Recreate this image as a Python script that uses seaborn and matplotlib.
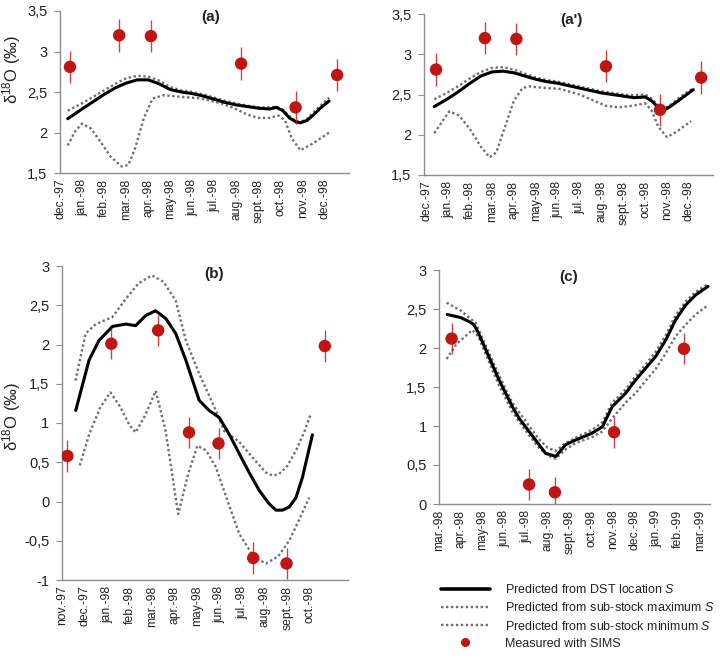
import numpy as np
import pandas as pd
import matplotlib
matplotlib.use("Agg")
import matplotlib.pyplot as plt
from matplotlib.lines import Line2D
from matplotlib.ticker import FuncFormatter, FixedLocator
import seaborn as sns

sns.set_theme(style="white")
plt.rcParams['font.family'] = ['Liberation Sans', 'DejaVu Sans']
plt.rcParams['mathtext.fontset'] = 'custom'
plt.rcParams['mathtext.rm'] = 'Liberation Sans'
plt.rcParams['mathtext.it'] = 'Liberation Sans:italic'

# ---------------- data ----------------
labels_a = ["dec.-97", "jan.-98", "feb.-98", "mar.-98", "apr.-98", "may-98", "jun.-98",
            "jul.-98", "aug.-98", "sept.-98", "oct.-98", "nov.-98", "dec.-98"]
labels_b = ["nov.-97", "dec.-97", "jan.-98", "feb.-98", "mar.-98", "apr.-98", "may-98",
            "jun.-98", "jul.-98", "aug.-98", "sept.-98", "oct.-98"]
labels_c = ["mar.-98", "apr.-98", "may-98", "jun.-98", "jul.-98", "aug.-98", "sept.-98",
            "oct.-98", "nov.-98", "dec.-98", "jan.-99", "feb.-99", "mar.-99"]

# Panel (a)
a_dst_x = [0.35, 1.0, 1.5, 2.0, 2.5, 3.0, 3.5, 4.0, 4.5, 5.0, 5.5, 6.0, 6.5, 7.0, 7.5, 8.0,
           8.5, 9.0, 9.5, 9.8, 10.1, 10.4, 10.7, 10.9, 11.2, 11.5, 11.8, 12.2]
a_dst_y = [2.17, 2.29, 2.38, 2.47, 2.55, 2.61, 2.65, 2.65, 2.60, 2.53, 2.50, 2.48, 2.45, 2.41,
           2.37, 2.34, 2.32, 2.30, 2.29, 2.31, 2.27, 2.18, 2.13, 2.12, 2.15, 2.22, 2.30, 2.39]
a_max_y = [2.27, 2.36, 2.44, 2.52, 2.60, 2.67, 2.70, 2.69, 2.64, 2.56, 2.52, 2.50, 2.47, 2.43,
           2.39, 2.36, 2.33, 2.31, 2.31, 2.32, 2.28, 2.20, 2.14, 2.13, 2.17, 2.25, 2.33, 2.43]
a_min_x = [0.35, 0.7, 1.0, 1.4, 1.8, 2.3, 2.8, 3.1, 3.4, 3.8, 4.2, 4.7, 5.5, 6.4, 7.3, 7.9,
           8.5, 9.0, 9.5, 9.9, 10.2, 10.5, 10.9, 11.5, 12.2]
a_min_y = [1.84, 2.02, 2.11, 2.05, 1.90, 1.70, 1.58, 1.60, 1.80, 2.18, 2.42, 2.46, 2.44, 2.42,
           2.36, 2.30, 2.22, 2.18, 2.18, 2.21, 2.15, 1.93, 1.78, 1.87, 2.00]

# Panel (a')
ap_dst_x = [0.37, 1.0, 1.5, 2.0, 2.5, 3.0, 3.5, 4.0, 4.5, 5.0, 5.5, 6.0, 6.5, 7.0, 7.5, 8.0,
            8.5, 9.0, 9.5, 10.0, 10.3, 10.6, 10.9, 11.2, 11.6, 12.2]
ap_dst_y = [2.35, 2.45, 2.54, 2.64, 2.73, 2.78, 2.79, 2.77, 2.73, 2.69, 2.66, 2.64, 2.61, 2.58,
            2.55, 2.52, 2.50, 2.48, 2.46, 2.47, 2.42, 2.34, 2.31, 2.36, 2.44, 2.56]
ap_max_y = [2.44, 2.53, 2.61, 2.70, 2.78, 2.83, 2.84, 2.81, 2.76, 2.71, 2.68, 2.66, 2.63, 2.60,
            2.57, 2.54, 2.52, 2.50, 2.49, 2.50, 2.45, 2.36, 2.33, 2.38, 2.47, 2.58]
ap_min_x = [0.37, 1.05, 1.5, 2.0, 2.5, 2.9, 3.2, 3.6, 4.0, 4.4, 4.7, 5.5, 6.1, 7.0, 7.6, 8.2,
            8.8, 9.4, 10.0, 10.3, 10.6, 11.0, 11.5, 12.1]
ap_min_y = [2.02, 2.29, 2.24, 2.07, 1.85, 1.72, 1.78, 2.10, 2.42, 2.58, 2.60, 2.58, 2.57, 2.50,
            2.43, 2.36, 2.34, 2.36, 2.39, 2.30, 2.10, 1.97, 2.05, 2.17]

# Measured SIMS (a) and (a')
a_sims_x = [0.45, 2.68, 4.12, 8.21, 10.68, 12.56]
a_sims_y = [2.81, 3.20, 3.19, 2.85, 2.31, 2.71]
a_sims_err = [0.2, 0.2, 0.2, 0.2, 0.2, 0.2]

# Panel (b)
b_dst_x = [0.61, 1.2, 1.64, 2.24, 2.83, 3.27, 3.72, 4.16, 4.61, 5.05, 5.5, 6.09, 6.53, 6.98,
           7.42, 7.87, 8.31, 8.76, 9.2, 9.5, 9.79, 10.09, 10.39, 10.68, 11.12]
b_dst_y = [1.16, 1.80, 2.05, 2.23, 2.26, 2.24, 2.37, 2.43, 2.33, 2.14, 1.80, 1.29, 1.16, 1.07,
           0.86, 0.61, 0.37, 0.14, -0.03, -0.11, -0.11, -0.07, 0.05, 0.31, 0.85]
b_max_x = [0.6, 1.05, 1.5, 2.24, 2.83, 3.4, 4.0, 4.5, 5.05, 5.5, 6.09, 6.83, 7.2, 7.87, 8.46,
           9.05, 9.35, 9.64, 10.0, 10.39, 10.75, 11.05]
b_max_y = [1.54, 2.14, 2.26, 2.35, 2.58, 2.78, 2.88, 2.80, 2.56, 2.05, 1.63, 1.16, 0.90, 0.76,
           0.56, 0.37, 0.33, 0.35, 0.45, 0.65, 0.88, 1.12]
b_min_x = [0.79, 1.2, 1.7, 2.15, 2.6, 3.0, 3.27, 3.7, 4.16, 4.6, 5.16, 5.6, 6.01, 6.4, 6.83,
           7.3, 7.87, 8.5, 9.05, 9.6, 10.09, 10.5, 10.98]
b_min_y = [0.46, 0.85, 1.20, 1.39, 1.20, 0.97, 0.88, 1.10, 1.41, 0.90, -0.16, 0.35, 0.71, 0.65,
           0.44, 0.05, -0.41, -0.70, -0.79, -0.70, -0.50, -0.25, 0.05]
b_sims_x = [0.24, 2.19, 4.27, 5.64, 6.95, 8.49, 9.97, 11.67]
b_sims_y = [0.58, 2.01, 2.18, 0.88, 0.74, -0.72, -0.79, 1.98]
b_sims_err = [0.2, 0.2, 0.2, 0.2, 0.2, 0.2, 0.2, 0.2]

# Panel (c)
c_dst_x = [0.38, 1.0, 1.38, 1.6, 1.8, 2.15, 2.76, 3.37, 3.68, 4.14, 4.6, 4.9, 5.37, 5.82, 6.28,
           7.05, 7.51, 7.97, 8.58, 9.04, 9.5, 9.96, 10.42, 10.88, 11.34, 11.8, 12.37]
c_dst_y = [2.43, 2.39, 2.34, 2.30, 2.20, 1.98, 1.59, 1.25, 1.10, 0.93, 0.76, 0.65, 0.61, 0.76,
           0.82, 0.91, 0.99, 1.25, 1.42, 1.59, 1.74, 1.89, 2.10, 2.36, 2.55, 2.68, 2.79]
c_max_x = [0.35, 1.0, 1.69, 2.15, 2.76, 3.37, 4.14, 4.6, 5.0, 5.37, 5.82, 6.28, 7.05, 7.51,
           7.97, 8.58, 9.04, 9.5, 9.96, 10.42, 10.88, 11.34, 11.8, 12.37]
c_max_y = [2.58, 2.48, 2.32, 2.03, 1.65, 1.30, 1.00, 0.83, 0.72, 0.68, 0.78, 0.85, 0.95, 1.05,
           1.30, 1.47, 1.64, 1.79, 1.95, 2.16, 2.42, 2.60, 2.72, 2.82]
c_min_x = [0.35, 0.8, 1.53, 1.8, 2.15, 2.76, 3.37, 4.14, 4.6, 5.0, 5.37, 5.82, 6.28, 7.05, 7.51,
           7.97, 8.58, 9.04, 9.5, 9.96, 10.42, 10.88, 11.34, 11.8, 12.37]
c_min_y = [1.86, 2.05, 2.23, 2.15, 1.92, 1.52, 1.18, 0.88, 0.72, 0.62, 0.58, 0.70, 0.78, 0.86,
           0.93, 1.10, 1.30, 1.42, 1.58, 1.73, 1.93, 2.15, 2.30, 2.43, 2.55]
c_sims_x = [0.58, 4.14, 5.33, 8.05, 11.26]
c_sims_y = [2.12, 0.25, 0.15, 0.92, 1.99]
c_sims_err = [0.2, 0.2, 0.2, 0.2, 0.2]

legend_labels = ["Predicted from DST location $\\mathit{S}$",
                 "Predicted from sub-stock maximum $\\mathit{S}$",
                 "Predicted from sub-stock minimum $\\mathit{S}$",
                 "Measured with SIMS"]

# ---------------- style ----------------
RED = "#BF1515"
GRAY = "#6e6e6e"
SPINE = "#8c8c8c"
DOT = (0, (1, 1.1))

fig = plt.figure(figsize=(7.2, 6.6), dpi=100)

def px_axes(left, right, top, bottom):
    W, H = 720.0, 660.0
    return fig.add_axes([left / W, 1 - bottom / H, (right - left) / W, (bottom - top) / H])

ax_a = px_axes(60, 349, 11, 173)
ax_ap = px_axes(424, 713, 14, 175)
ax_b = px_axes(62, 348, 266, 580)
ax_c = px_axes(439, 710, 270, 504)

comma = FuncFormatter(lambda v, p: ("%g" % round(v, 2)).replace(".", ","))

def draw(ax, dx, dy, mx, my, nx, ny, sx, sy, se):
    sns.lineplot(x=mx, y=my, ax=ax, sort=False, estimator=None, color=GRAY,
                 linewidth=1.7, linestyle=DOT, dash_capstyle="butt")
    sns.lineplot(x=nx, y=ny, ax=ax, sort=False, estimator=None, color=GRAY,
                 linewidth=1.7, linestyle=DOT, dash_capstyle="butt")
    sns.lineplot(x=dx, y=dy, ax=ax, sort=False, estimator=None, color="black",
                 linewidth=2.2)
    ax.errorbar(sx, sy, yerr=se, fmt="none", ecolor=RED, elinewidth=1.0, capsize=0,
                alpha=0.8, zorder=4)
    sns.scatterplot(x=sx, y=sy, ax=ax, color=RED, s=80, edgecolor="none", zorder=5)

def style(ax, labels, xlim, ylim, yticks, title, tx, ty):
    ax.set_xlim(*xlim)
    ax.set_ylim(*ylim)
    ax.xaxis.set_major_locator(FixedLocator(list(range(len(labels)))))
    ax.set_xticklabels(labels, rotation=90, fontsize=8.7, color="#222222")
    ax.yaxis.set_major_locator(FixedLocator(yticks))
    ax.yaxis.set_major_formatter(comma)
    ax.tick_params(axis="y", labelsize=10.5, colors="#222222", length=4, width=0.8,
                   direction="out", left=True, pad=5)
    ax.tick_params(axis="y", color=SPINE)
    ax.tick_params(axis="x", length=0, pad=4)
    for s in ["top", "right"]:
        ax.spines[s].set_visible(False)
    for s in ["left", "bottom"]:
        ax.spines[s].set_color(SPINE)
        ax.spines[s].set_linewidth(1.0)
    ax.set_xlabel("")
    ax.set_ylabel("")
    ax.text(tx, ty, title, transform=ax.transAxes, ha="center", va="center",
            fontsize=11, fontweight="bold", color="#222222")
    ax.grid(False)
    ax.set_facecolor("white")

draw(ax_a, a_dst_x, a_dst_y, a_dst_x, a_max_y, a_min_x, a_min_y, a_sims_x, a_sims_y, a_sims_err)
style(ax_a, labels_a, (0, 13.1), (1.5, 3.5), [1.5, 2, 2.5, 3, 3.5], "(a)", 0.52, 0.965)

draw(ax_ap, ap_dst_x, ap_dst_y, ap_dst_x, ap_max_y, ap_min_x, ap_min_y, a_sims_x, a_sims_y, a_sims_err)
style(ax_ap, labels_a, (-0.1, 13.1), (1.5, 3.5), [1.5, 2, 2.5, 3, 3.5], "(a')", 0.51, 0.96)

draw(ax_b, b_dst_x, b_dst_y, b_max_x, b_max_y, b_min_x, b_min_y, b_sims_x, b_sims_y, b_sims_err)
style(ax_b, labels_b, (0, 12.7), (-1, 3), [-1, -0.5, 0, 0.5, 1, 1.5, 2, 2.5, 3], "(b)", 0.53, 0.975)

draw(ax_c, c_dst_x, c_dst_y, c_max_x, c_max_y, c_min_x, c_min_y, c_sims_x, c_sims_y, c_sims_err)
style(ax_c, labels_c, (0, 12.46), (0, 3), [0, 0.5, 1, 1.5, 2, 2.5, 3], "(c)", 0.48, 0.97)

ylab = "δ$^{18}$O (‰)"
ax_a.set_ylabel(ylab, fontsize=12, color="#222222")
ax_a.yaxis.set_label_coords(-0.128, 0.64)
ax_b.set_ylabel(ylab, fontsize=12, color="#222222")
ax_b.yaxis.set_label_coords(-0.136, 0.52)

handles = [Line2D([], [], color="black", linewidth=2.6),
           Line2D([], [], color=GRAY, linewidth=1.7, linestyle=DOT),
           Line2D([], [], color=GRAY, linewidth=1.7, linestyle=DOT),
           Line2D([], [], color=RED, marker="o", linestyle="none", markersize=6.5,
                  markeredgewidth=0)]
fig.legend(handles, legend_labels, loc="upper left", bbox_to_anchor=(441 / 720, 1 - 583 / 660),
           frameon=False, fontsize=9, handlelength=3.9, handletextpad=1.2,
           labelspacing=0.42, borderpad=0, borderaxespad=0, labelcolor="#222222")

fig.savefig("out.png", dpi=100, facecolor="white")
